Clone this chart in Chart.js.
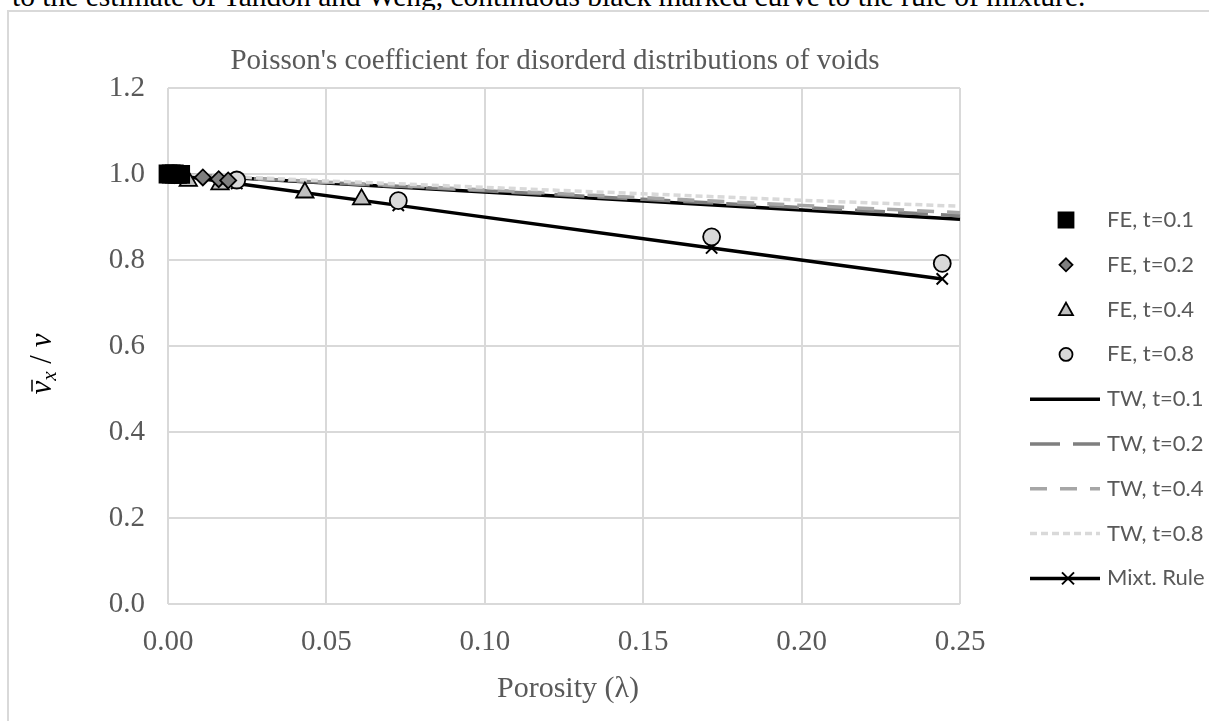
<!DOCTYPE html>
<html>
<head>
<meta charset="utf-8">
<script src="https://cdn.jsdelivr.net/npm/chart.js@4.4.1/dist/chart.umd.min.js"></script>
<style>
html, body { margin: 0; padding: 0; background: #fff; overflow: hidden; width: 1209px; height: 721px; }
#caption { position: absolute; left: 12px; top: -18px; font: 29.5px "Liberation Serif", "Times New Roman", serif; line-height: 28px; color: #000; white-space: nowrap; }
#frame { position: absolute; left: 7px; top: 10px; width: 1300px; height: 800px; border: 2px solid #d9d9d9; box-sizing: border-box; }
#wrap { position: absolute; left: 9px; top: 12px; width: 1200px; height: 709px; }
</style>
</head>
<body>
<div id="caption">to the estimate of Tandon and Weng, continuous black marked curve to the rule of mixture.</div>
<div id="frame"></div>
<div id="wrap"><canvas id="grafico" width="1200" height="709"></canvas></div>
<script>
// valores
var titulo = "Poisson's coefficient for disorderd distributions of voids";
var ticksX = [0, 0.05, 0.10, 0.15, 0.20, 0.25];
var ticksY = [0, 0.2, 0.4, 0.6, 0.8, 1.0, 1.2];

var feT01X = [0, 0.001, 0.002, 0.003, 0.004];
var feT01Y = [1.0, 1.0, 1.0, 0.999, 0.999];
var feT02X = [0.002, 0.011, 0.016, 0.019];
var feT02Y = [0.998, 0.992, 0.988, 0.985];
var feT04X = [0.0064, 0.0164, 0.0432, 0.0611];
var feT04Y = [0.984, 0.976, 0.957, 0.941];
var feT08X = [0.0016, 0.0217, 0.0727, 0.1716, 0.2444];
var feT08Y = [1.0, 0.986, 0.938, 0.854, 0.792];

var twX = [0, 0.05, 0.10, 0.15, 0.20, 0.25];
var twT01Y = [1.0, 0.979, 0.958, 0.937, 0.916, 0.895];
var twT02Y = [1.0, 0.980, 0.961, 0.941, 0.922, 0.903];
var twT04Y = [1.0, 0.981, 0.963, 0.945, 0.927, 0.910];
var twT08Y = [1.0, 0.984, 0.969, 0.954, 0.939, 0.925];

var mixtX = [0, 0.0016, 0.0217, 0.0727, 0.1716, 0.2444];
var mixtY = [1.0, 0.998, 0.978, 0.927, 0.828, 0.756];

var etiquetas = ['FE, t=0.1', 'FE, t=0.2', 'FE, t=0.4', 'FE, t=0.8',
                 'TW, t=0.1', 'TW, t=0.2', 'TW, t=0.4', 'TW, t=0.8', 'Mixt. Rule'];

function pares(xs, ys) {
    return xs.map(function (x, i) { return { x: x, y: ys[i] }; });
}

function marcador(label, datos, estilo, radio, relleno, orden) {
    return {
        label: label, data: datos, showLine: false, order: orden, clip: false,
        pointStyle: estilo, pointRadius: radio, pointHoverRadius: radio,
        backgroundColor: relleno, borderColor: '#000', pointBorderWidth: 1.8
    };
}

function linea(label, datos, color, dash, orden) {
    return {
        label: label, data: datos, showLine: true, order: orden, clip: false,
        borderColor: color, borderWidth: 3.5, borderDash: dash, borderCapStyle: 'butt',
        pointRadius: 0, pointHoverRadius: 0, backgroundColor: color, tension: 0
    };
}

var datasets = [
    marcador(etiquetas[0], pares(feT01X, feT01Y), 'rect', 12, '#000', 0),
    marcador(etiquetas[1], pares(feT02X, feT02Y), 'rectRot', 8, '#7f7f7f', 0),
    marcador(etiquetas[2], pares(feT04X, feT04Y), 'triangle', 10, '#bfbfbf', 0),
    marcador(etiquetas[3], pares(feT08X, feT08Y), 'circle', 8.5, '#d9d9d9', 0),
    linea(etiquetas[4], pares(twX, twT01Y), '#000', [], 5),
    linea(etiquetas[5], pares(twX, twT02Y), '#7f7f7f', [30, 13], 4),
    linea(etiquetas[6], pares(twX, twT04Y), '#a6a6a6', [17, 13], 3),
    linea(etiquetas[7], pares(twX, twT08Y), '#d9d9d9', [7, 4], 2),
    {
        label: etiquetas[8], data: pares(mixtX, mixtY), showLine: true, order: 1, clip: false,
        borderColor: '#000', borderWidth: 3.5, pointStyle: 'crossRot', pointRadius: 8,
        pointBorderColor: '#000', pointBorderWidth: 2, backgroundColor: '#000'
    }
];

function dibujarMarca(c, ds, x, y, r) {
    c.save();
    c.fillStyle = ds.backgroundColor;
    c.strokeStyle = '#000';
    c.lineWidth = 1.8;
    c.beginPath();
    if (ds.pointStyle === 'rect') {
        c.rect(x - r, y - r, 2 * r, 2 * r);
    } else if (ds.pointStyle === 'rectRot') {
        c.moveTo(x, y - r); c.lineTo(x + r, y); c.lineTo(x, y + r); c.lineTo(x - r, y); c.closePath();
    } else if (ds.pointStyle === 'triangle') {
        c.moveTo(x, y - r); c.lineTo(x + r, y + r * 0.8); c.lineTo(x - r, y + r * 0.8); c.closePath();
    } else if (ds.pointStyle === 'circle') {
        c.arc(x, y, r, 0, Math.PI * 2);
    }
    c.fill();
    c.stroke();
    c.restore();
}

var extras = {
    id: 'extras',
    afterDraw: function (chart) {
        var c = chart.ctx;
        var a = chart.chartArea;
        c.save();
        // titulo
        c.fillStyle = '#595959';
        c.textAlign = 'center';
        c.textBaseline = 'alphabetic';
        c.font = '29px "Liberation Serif"';
        c.fillText(titulo, 546, 57);
        // titulo eje x
        c.font = '30px "Liberation Serif"';
        c.fillText('Porosity (\u03bb)', (a.left + a.right) / 2 + 4, 685);

        // titulo eje y: nu barra sub x / nu
        c.save();
        c.translate(37, 352);
        c.rotate(-Math.PI / 2);
        c.fillStyle = '#000';
        c.textAlign = 'left';
        var fNu = 'italic 31px "Liberation Serif"';
        var fSub = 'italic 21px "Liberation Serif"';
        var fBar = '31px "Liberation Serif"';
        c.font = fNu; var w1 = c.measureText('\u03bd').width;
        c.font = fSub; var w2 = c.measureText('x').width;
        c.font = fBar; var w3 = c.measureText(' / ').width;
        c.font = fNu; var w4 = c.measureText('\u03bd').width;
        var x0 = -(w1 + w2 + w3 + w4) / 2;
        var base = 5;
        c.font = fNu; c.fillText('\u03bd', x0, base);
        c.strokeStyle = '#000'; c.lineWidth = 1.5;
        c.beginPath(); c.moveTo(x0 + 3, base - 19); c.lineTo(x0 + w1 + 1, base - 19); c.stroke();
        c.font = fSub; c.fillText('x', x0 + w1, base + 5);
        c.font = fBar; c.fillText(' / ', x0 + w1 + w2, base);
        c.font = fNu; c.fillText('\u03bd', x0 + w1 + w2 + w3, base);
        c.restore();

        // leyenda
        var ds = chart.data.datasets;
        var radios = [7.5, 6.5, 7, 6.5];
        c.font = '22px Lato';
        c.textAlign = 'left';
        c.textBaseline = 'middle';
        for (var i = 0; i < ds.length; i++) {
            var y = 208 + i * 44.8;
            if (i < 4) {
                dibujarMarca(c, ds[i], 1057, y, radios[i]);
            } else {
                c.save();
                c.strokeStyle = ds[i].borderColor;
                c.lineWidth = 3.5;
                c.setLineDash(ds[i].borderDash || []);
                c.beginPath(); c.moveTo(1021, y); c.lineTo(1091, y); c.stroke();
                c.restore();
                if (ds[i].pointStyle === 'crossRot') {
                    c.save();
                    c.strokeStyle = '#000'; c.lineWidth = 2;
                    c.beginPath();
                    c.moveTo(1053, y - 6); c.lineTo(1065, y + 6);
                    c.moveTo(1065, y - 6); c.lineTo(1053, y + 6);
                    c.stroke();
                    c.restore();
                }
            }
            c.fillStyle = '#595959';
            c.fillText(ds[i].label, 1098, y);
        }
        c.restore();
    }
};

var fuenteTicks = { family: '"Liberation Serif"', size: 29 };

new Chart(document.getElementById('grafico'), {
    type: 'scatter',
    data: { datasets: datasets },
    options: {
        responsive: false,
        animation: false,
        devicePixelRatio: 1,
        layout: { padding: { left: 0, top: 76, right: 249, bottom: 0 } },
        plugins: { legend: { display: false }, tooltip: { enabled: false }, title: { display: false } },
        scales: {
            x: {
                type: 'linear', min: ticksX[0], max: ticksX[ticksX.length - 1],
                afterBuildTicks: function (s) { s.ticks = ticksX.map(function (v) { return { value: v }; }); },
                ticks: { color: '#595959', font: fuenteTicks, padding: 21,
                    callback: function (v) { return Number(v).toFixed(2); } },
                grid: { color: '#d9d9d9', lineWidth: 2, drawTicks: false },
                border: { display: false },
                afterFit: function (s) { s.height = 117; }
            },
            y: {
                min: ticksY[0], max: ticksY[ticksY.length - 1],
                afterBuildTicks: function (s) { s.ticks = ticksY.map(function (v) { return { value: v }; }); },
                ticks: { color: '#595959', font: fuenteTicks, padding: 23,
                    callback: function (v) { return Number(v).toFixed(1); } },
                grid: { color: '#d9d9d9', lineWidth: 2, drawTicks: false },
                border: { display: false },
                afterFit: function (s) { s.width = 159; }
            }
        }
    },
    plugins: [extras]
});
</script>
</body>
</html>
